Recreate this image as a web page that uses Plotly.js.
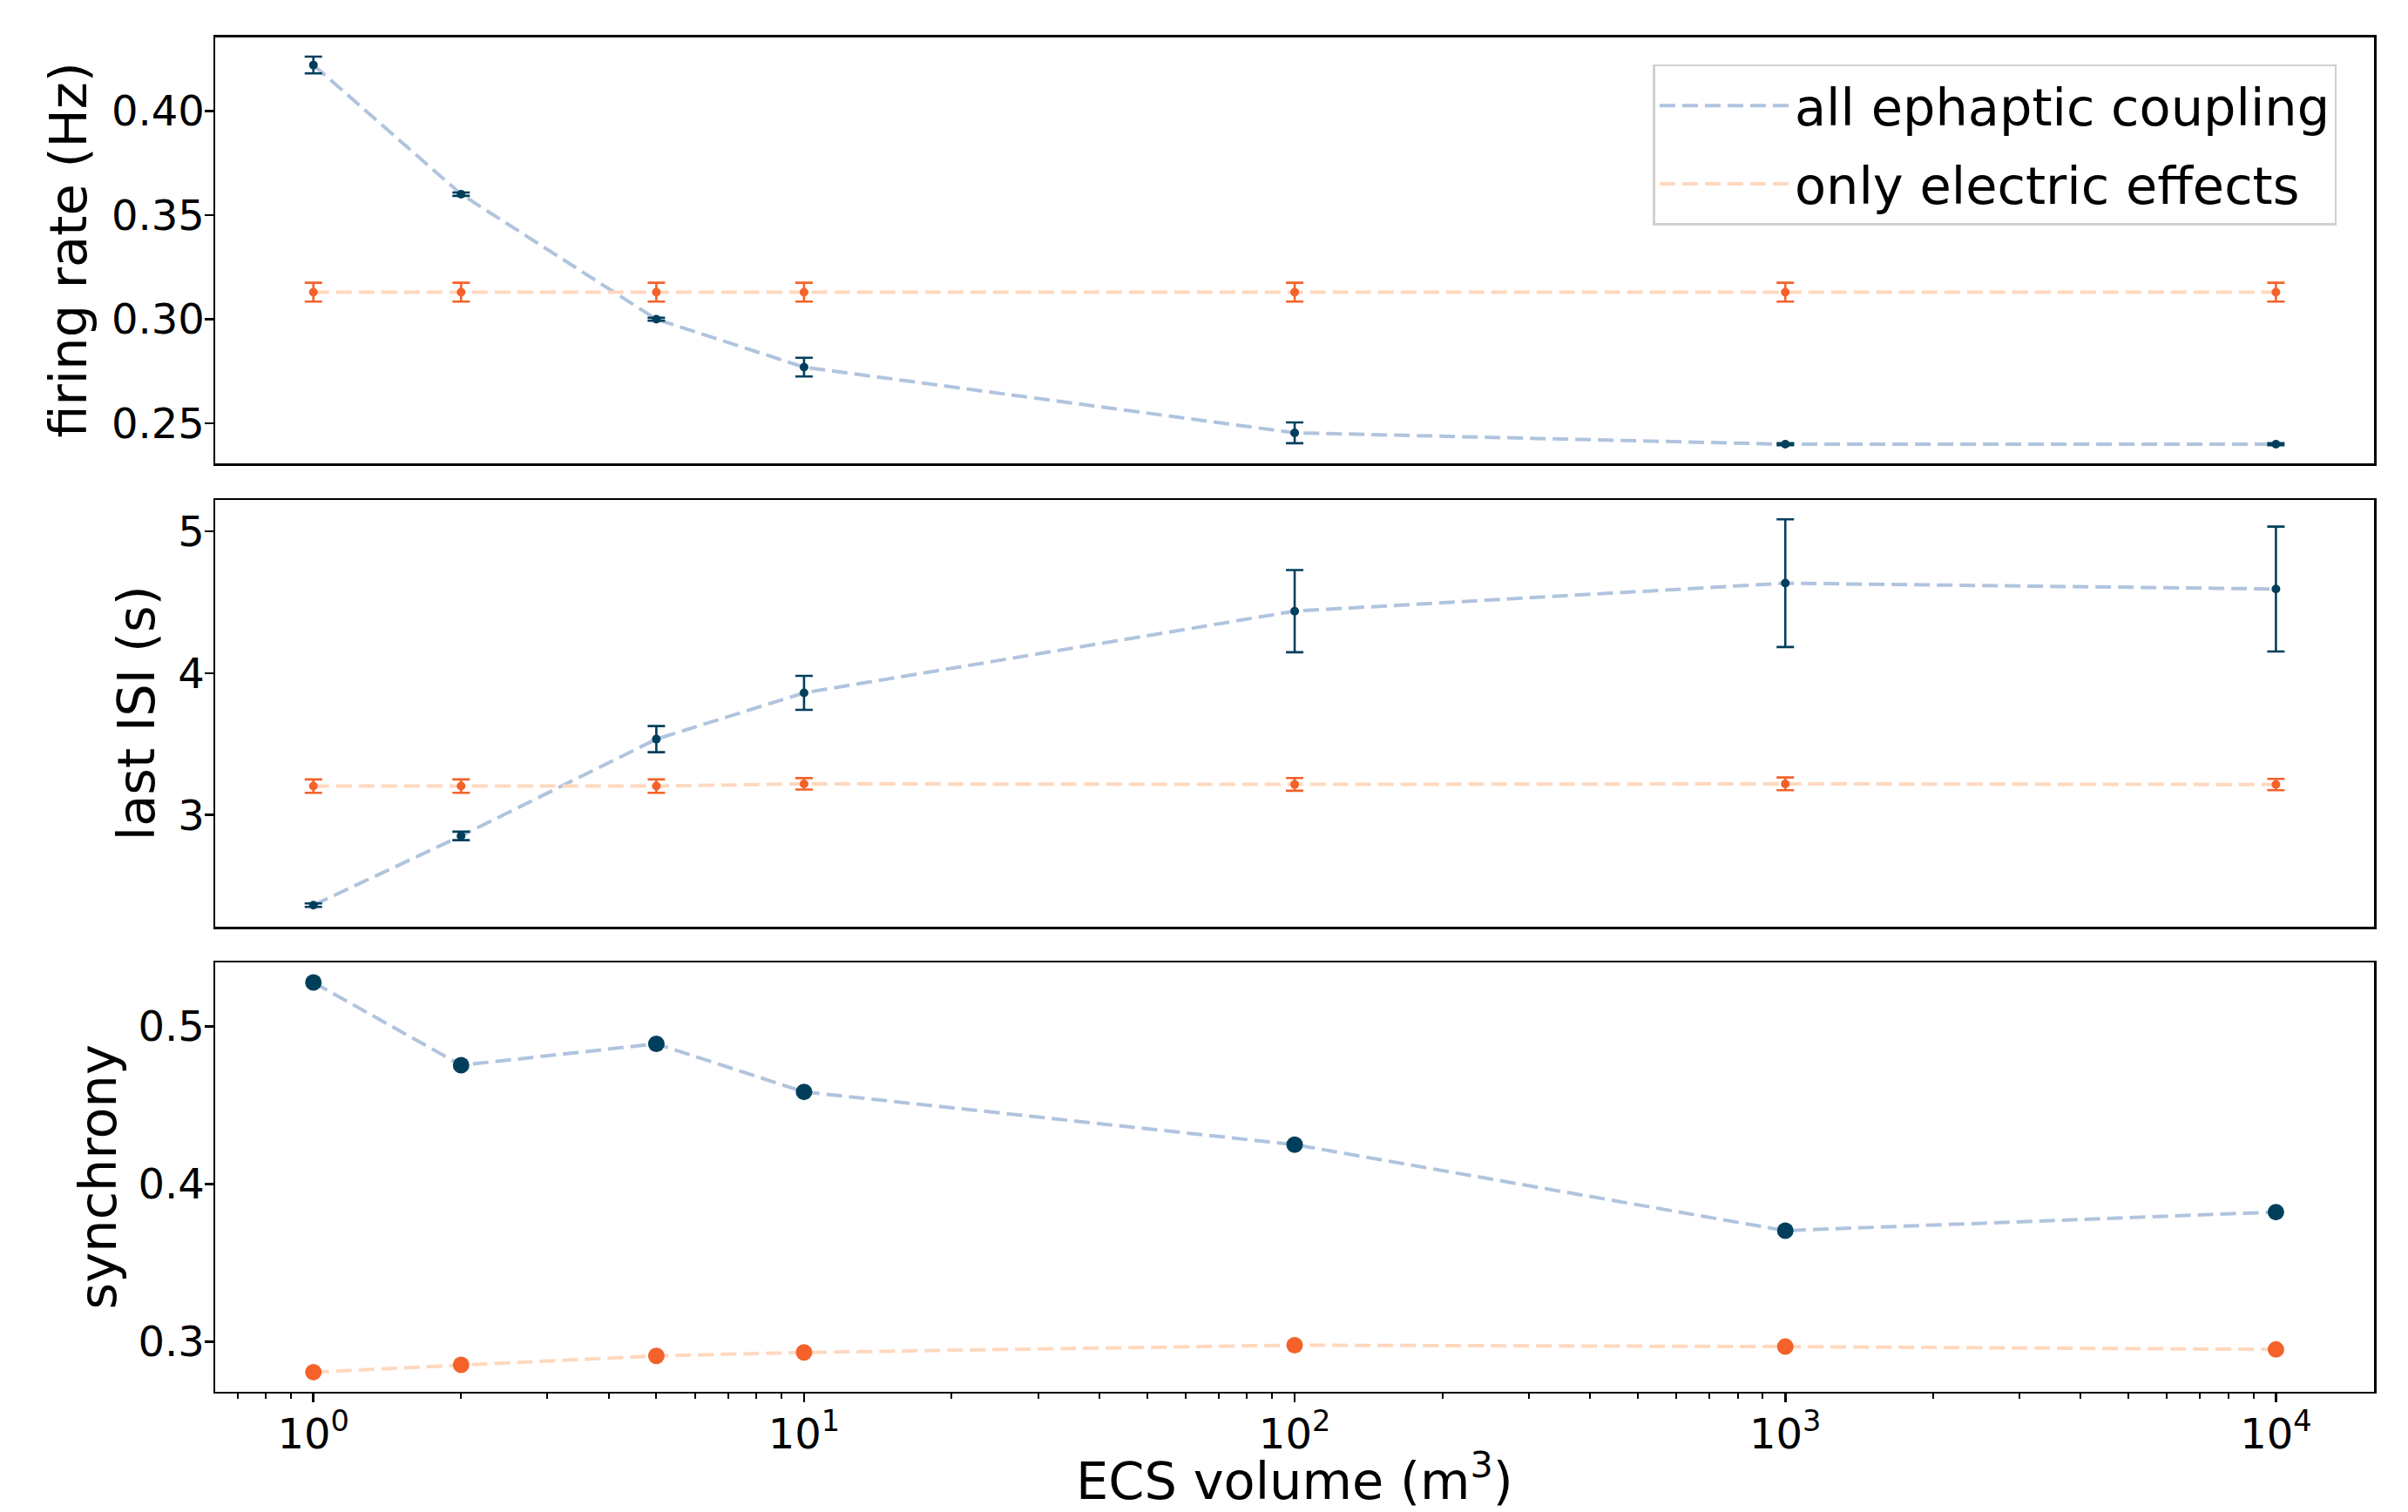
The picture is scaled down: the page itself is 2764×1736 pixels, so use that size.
<!DOCTYPE html>
<html>
<head>
<meta charset="utf-8">
<script src="https://cdn.plot.ly/plotly-3.0.1.min.js"></script>
<style>html,body{margin:0;padding:0;background:#fff;}#chart{width:2764px;height:1736px;}</style>
</head>
<body>
<div id="chart"></div>
<script>
// ECS volume (m^3)
const ecsVolume = [1, 2, 5, 10, 100, 1000, 10000];

// firing rate (Hz)
const rateAll = [0.422, 0.360, 0.300, 0.277, 0.2455, 0.240, 0.240];
const rateAllErr = [0.004, 0.0008, 0.0007, 0.0045, 0.005, 0.0005, 0.0005];
const rateElec = [0.313, 0.313, 0.313, 0.313, 0.313, 0.313, 0.313];
const rateElecErr = [0.0045, 0.0045, 0.0045, 0.0045, 0.0045, 0.0045, 0.0045];

// last ISI (s)
const isiAll = [2.365, 2.853, 3.535, 3.861, 4.437, 4.634, 4.593];
const isiAllErr = [0.012, 0.03, 0.092, 0.12, 0.29, 0.45, 0.44];
const isiElec = [3.204, 3.204, 3.204, 3.220, 3.216, 3.220, 3.215];
const isiElecErr = [0.047, 0.047, 0.047, 0.04, 0.045, 0.045, 0.04];

// synchrony
const syncAll = [0.528, 0.4754, 0.489, 0.4585, 0.425, 0.3704, 0.3822];
const syncElec = [0.2806, 0.2852, 0.2909, 0.2931, 0.2977, 0.2968, 0.295];

// labels
const seriesNames = ['all ephaptic coupling', 'only electric effects'];
const panelTitles = ['firing rate (Hz)', 'last ISI (s)', 'synchrony'];
const xTitle = 'ECS volume (m<sup>3</sup>)';
const xTickVals = [1, 10, 100, 1000, 10000];
const xTickText = ['10<sup>0</sup>', '10<sup>1</sup>', '10<sup>2</sup>', '10<sup>3</sup>', '10<sup>4</sup>'];

const darkBlue = '#003f5c';
const lightBlue = '#b0c4de';
const darkOrange = '#f4622a';
const lightOrange = '#ffd8bd';
const FONT = 'DejaVu Sans';

function lineTrace(y, color, name, group, xa, ya, show) {
  return {x: ecsVolume, y: y, type: 'scatter', mode: 'lines', name: name,
    legendgroup: group, showlegend: show, xaxis: xa, yaxis: ya, hoverinfo: 'skip',
    line: {color: color, width: 4, dash: '18px,8px'}};
}
function markerTrace(y, err, color, size, group, xa, ya) {
  const t = {x: ecsVolume, y: y, type: 'scatter', mode: 'markers', showlegend: false,
    legendgroup: group, xaxis: xa, yaxis: ya, marker: {color: color, size: size, line: {width: 0}}};
  if (err) t.error_y = {type: 'data', array: err, visible: true, color: color, thickness: 2.6, width: 10};
  return t;
}

const data = [
  lineTrace(rateAll, lightBlue, seriesNames[0], 'all', 'x2', 'y', true),
  lineTrace(rateElec, lightOrange, seriesNames[1], 'elec', 'x2', 'y', true),
  markerTrace(rateAll, rateAllErr, darkBlue, 10, 'all', 'x2', 'y'),
  markerTrace(rateElec, rateElecErr, darkOrange, 10, 'elec', 'x2', 'y'),
  lineTrace(isiAll, lightBlue, seriesNames[0], 'all', 'x3', 'y2', false),
  lineTrace(isiElec, lightOrange, seriesNames[1], 'elec', 'x3', 'y2', false),
  markerTrace(isiAll, isiAllErr, darkBlue, 10, 'all', 'x3', 'y2'),
  markerTrace(isiElec, isiElecErr, darkOrange, 10, 'elec', 'x3', 'y2'),
  lineTrace(syncAll, lightBlue, seriesNames[0], 'all', 'x', 'y3', false),
  lineTrace(syncElec, lightOrange, seriesNames[1], 'elec', 'x', 'y3', false),
  markerTrace(syncAll, null, darkBlue, 19, 'all', 'x', 'y3'),
  markerTrace(syncElec, null, darkOrange, 19, 'elec', 'x', 'y3')
];

const xDomain = [0.0894, 0.9859];
const xRange = [-0.2, 4.2];
const yDomains = [[0.6935, 0.9752], [0.3871, 0.6691], [0.0797, 0.3634]];
const axisLine = {showline: true, mirror: true, linecolor: '#000', linewidth: 2.6, showgrid: false, zeroline: false};

function yAxis(domain, range, dtick, fmt) {
  return Object.assign({}, axisLine, {
    domain: domain, range: range, dtick: dtick, tick0: 0, tickformat: fmt,
    ticks: 'outside', ticklen: 10, tickwidth: 2.6, tickcolor: '#000',
    tickfont: {family: FONT, size: 48, color: '#000'},
    ticklabelstandoff: -10
  });
}

// axis titles placed as paper-anchored labels (positions in px / figure size)
const titleX = [79 / 2764, 156 / 2764, 112 / 2764];
const annotations = panelTitles.map((t, i) => ({
  text: t, xref: 'paper', yref: 'paper', x: titleX[i], y: (yDomains[i][0] + yDomains[i][1]) / 2,
  xanchor: 'center', yanchor: 'middle', textangle: -90, showarrow: false,
  font: {family: FONT, size: 59, color: '#000'}
}));
annotations.push({
  text: xTitle, xref: 'paper', yref: 'paper', x: (xDomain[0] + xDomain[1]) / 2, y: 0,
  xanchor: 'center', yanchor: 'bottom', showarrow: false, borderpad: 0,
  font: {family: FONT, size: 59, color: '#000'}
});

const layout = {
  width: 2764, height: 1736,
  margin: {l: 0, r: 0, t: 0, b: 0},
  paper_bgcolor: '#fff', plot_bgcolor: '#fff',
  font: {family: FONT, color: '#000'},
  showlegend: true,
  annotations: annotations,
  legend: {
    x: 0.9705, xanchor: 'right', y: 0.9574, yanchor: 'top',
    bgcolor: 'rgba(255,255,255,0.8)', bordercolor: '#d0d0d0', borderwidth: 2.5,
    font: {family: FONT, size: 59, color: '#000'},
    itemwidth: 150, tracegroupgap: 10
  },
  xaxis: Object.assign({}, axisLine, {
    type: 'log', domain: xDomain, range: xRange, anchor: 'y3',
    tickmode: 'array', tickvals: xTickVals, ticktext: xTickText,
    ticks: 'outside', ticklen: 10, tickwidth: 2.6, tickcolor: '#000',
    tickfont: {family: FONT, size: 48, color: '#000'},
    ticklabelstandoff: -5,
    minor: {tickmode: 'linear', dtick: 'D1', ticks: 'outside', ticklen: 6, tickwidth: 2, tickcolor: '#000', showgrid: false}
  }),
  xaxis2: Object.assign({}, axisLine, {
    type: 'log', domain: xDomain, range: xRange, anchor: 'y', matches: 'x',
    showticklabels: false, ticks: ''
  }),
  xaxis3: Object.assign({}, axisLine, {
    type: 'log', domain: xDomain, range: xRange, anchor: 'y2', matches: 'x',
    showticklabels: false, ticks: ''
  }),
  yaxis: Object.assign(yAxis(yDomains[0], [0.2308, 0.4352], 0.05, '.2f'), {anchor: 'x2'}),
  yaxis2: Object.assign(yAxis(yDomains[1], [2.213, 5.218], 1, 'd'), {anchor: 'x3'}),
  yaxis3: Object.assign(yAxis(yDomains[2], [0.2683, 0.5406], 0.1, '.1f'), {anchor: 'x'})
};

Plotly.newPlot('chart', data, layout, {staticPlot: true, displayModeBar: false});
</script>
</body>
</html>
